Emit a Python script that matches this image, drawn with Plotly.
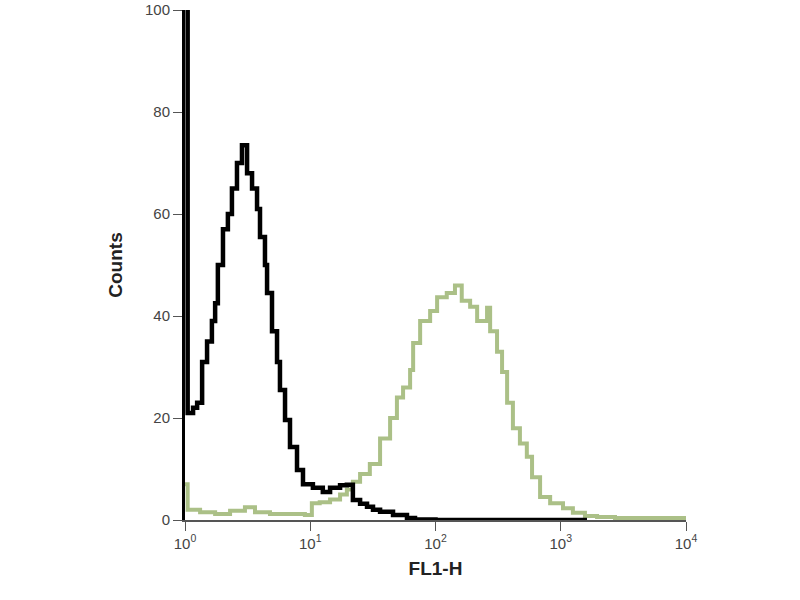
import plotly.graph_objects as go

# Control (black) histogram
black_x = [1.0, 1.05, 1.16, 1.25, 1.37, 1.50, 1.64, 1.74, 1.83, 2.01, 2.20, 2.37, 2.60, 2.85,
           3.13, 3.43, 3.76, 3.97, 4.35, 4.52, 4.95, 5.43, 5.73, 6.29, 6.89, 7.84, 8.75,
           10.5, 12.6, 14.4, 17.3, 19.6, 21.9, 25.0, 28.4, 31.7, 36.1, 45.8, 59.2, 68.6,
           100, 500, 1000, 1620]
black_y = [110, 21, 22, 23, 31, 35, 39, 42.5, 50, 57, 60, 65, 70, 73.5,
           68, 65, 61, 55.5, 50, 44.5, 37, 31, 25.5, 19.6, 14.3, 9.8, 7,
           6.3, 5.5, 6.3, 6.8, 6.9, 3.9, 3.2, 2.6, 2.0, 1.6, 1.0, 0.4, 0.1,
           0, 0, 0, 0]

# Stained (green) histogram
green_x = [1.0, 1.05, 1.32, 1.74, 2.29, 3.01, 3.62, 4.77, 6.89, 9.06, 10.3, 11.9, 14.4,
           17.3, 19.6, 21.9, 25.0, 29.9, 36.1, 43.4, 49.2, 55.1, 62.7, 66.3, 75.4, 90.6,
           103, 123, 143, 162, 189, 215, 258, 273, 310, 340, 373, 415, 472, 536, 590,
           684, 823, 1042, 1250, 1560, 1950, 2710, 10000]
green_y = [7, 2, 1.5, 1.2, 1.8, 2.5, 1.5, 1.2, 1.2, 1.0, 3.3, 3.5, 4,
           5, 6, 7.5, 9, 11, 16, 20, 24, 26, 29.4, 34.7, 39, 41,
           43.7, 44.5, 46, 43, 41.8, 39, 41.6, 37, 33, 29, 23, 18, 15, 12.4, 8.4,
           4.5, 3.3, 2.3, 1.4, 0.8, 0.6, 0.4, 0.2]

x_tickvals = [1, 10, 100, 1000, 10000]
x_ticktext = ["10<sup>0</sup>", "10<sup>1</sup>", "10<sup>2</sup>", "10<sup>3</sup>", "10<sup>4</sup>"]
y_tickvals = [0, 20, 40, 60, 80, 100]

fig = go.Figure()
fig.add_trace(go.Scatter(x=green_x, y=green_y, mode="lines", line_shape="hv",
                         line=dict(color="#abc087", width=4), showlegend=False))
fig.add_trace(go.Scatter(x=black_x, y=black_y, mode="lines", line_shape="hv",
                         line=dict(color="#000000", width=4.5), showlegend=False))

fig.update_layout(
    width=800, height=600,
    margin=dict(l=185, r=114, t=10, b=80, autoexpand=False),
    plot_bgcolor="white", paper_bgcolor="white",
    font=dict(family="Liberation Sans, Arial, sans-serif", color="#333333"),
    xaxis=dict(type="log", range=[0, 4], tickvals=x_tickvals, ticktext=x_ticktext,
               ticks="outside", ticklen=9, tickcolor="#555555", showgrid=False,
               showline=True, linecolor="#555555", linewidth=1.5, zeroline=False,
               automargin=False, tickfont=dict(size=15, color="#444444"),
               title=dict(text="<b>FL1-H</b>", font=dict(size=19, color="#222222"), standoff=11)),
    yaxis=dict(range=[0, 100], tickvals=y_tickvals, ticks="outside", ticklen=9,
               tickcolor="#555555", showgrid=False, showline=True, linecolor="#000000",
               linewidth=3, zeroline=False, automargin=False,
               tickfont=dict(size=15, color="#444444"),
               title=dict(text="<b>Counts</b>", font=dict(size=19, color="#222222"), standoff=18)),
)

fig.write_html("out.html", config={"displayModeBar": False},
               post_script="document.body.style.margin='0';")
